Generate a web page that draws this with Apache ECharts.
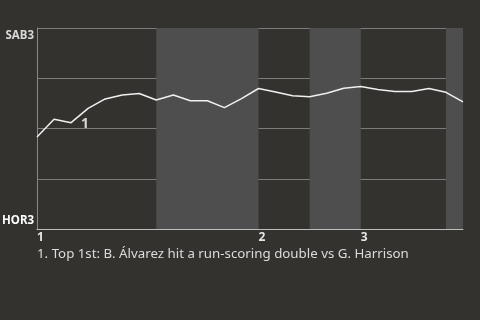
<!DOCTYPE html>
<html>
<head>
<meta charset="utf-8">
<script src="https://cdn.jsdelivr.net/npm/echarts@6/dist/echarts.min.js"></script>
<style>
html,body{margin:0;padding:0;background:#34322f;}
#chart{width:480px;height:320px;}
</style>
</head>
<body>
<div id="chart"></div>
<script>
// Win probability (SAB3 = 1, HOR3 = 0) after each plate appearance
var eventIndex = [0,1,2,3,4,5,6,7,8,9,10,11,12,13,14,15,16,17,18,19,20,21,22,23,24,25];
var winProb = [0.458,0.546,0.529,0.600,0.647,0.667,0.674,0.642,0.667,0.638,0.638,0.604,0.649,0.699,0.682,0.663,0.658,0.675,0.700,0.709,0.694,0.684,0.684,0.699,0.680,0.632];
// inning start positions and labels
var inningStarts = [0, 13, 19];
var inningLabels = ['1', '2', '3'];
// bottom-half inning ranges (shaded)
var bottomHalves = [[7, 13], [16, 19], [24, 25]];
var yTopLabel = 'SAB3';
var yBottomLabel = 'HOR3';
// annotations
var annotationIndex = [2];
var annotationText = ['1'];
var footnotes = ['1. Top 1st: B. Álvarez hit a run-scoring double vs G. Harrison'];

var FONT = 'Noto Sans';
var chart = echarts.init(document.getElementById('chart'));
var lineData = eventIndex.map(function (x, i) { return [x, winProb[i]]; });
var annData = annotationIndex.map(function (idx, i) { return { value: [eventIndex[idx], winProb[idx]], label: { formatter: annotationText[i] } }; });

chart.setOption({
  backgroundColor: '#34322f',
  animation: false,
  title: {
    text: footnotes.join('\n'),
    left: 37,
    top: 248,
    padding: 0,
    textStyle: { color: '#dcdcdc', fontSize: 13.3, fontWeight: 'normal', fontFamily: FONT }
  },
  grid: { left: 37, right: 17, top: 28, bottom: 91, containLabel: false, outerBoundsMode: 'none' },
  xAxis: {
    type: 'value', min: 0, max: 25, interval: 1,
    axisLine: { show: true, lineStyle: { color: '#bdbdbd', width: 1 } },
    axisTick: { show: false },
    splitLine: { show: false },
    axisLabel: {
      color: '#e6e6e6', fontWeight: 'bold', fontSize: 12, fontFamily: FONT, align: 'left', margin: 3,
      formatter: function (v) { var k = inningStarts.indexOf(v); return k >= 0 ? inningLabels[k] : ''; }
    }
  },
  yAxis: {
    type: 'value', min: 0, max: 1, interval: 0.25,
    axisLine: { show: true, lineStyle: { color: '#8a8a8a', width: 1 } },
    axisTick: { show: false },
    splitLine: { show: true, lineStyle: { color: '#7c7c7c', width: 1 } },
    axisLabel: {
      margin: 3, fontFamily: FONT,
      formatter: function (v) {
        if (v === 1) return '{t|' + yTopLabel + '}';
        if (v === 0) return '{b|' + yBottomLabel + '}';
        return '';
      },
      rich: {
        t: { color: '#d8d8d8', fontWeight: 'bold', fontSize: 11.5, fontFamily: FONT, padding: [16, 0, 0, 0] },
        b: { color: '#ffffff', fontWeight: 'bold', fontSize: 11.5, fontFamily: FONT, padding: [0, 0, 16, 0] }
      }
    }
  },
  series: [
    {
      type: 'line',
      data: lineData,
      symbol: 'none',
      lineStyle: { color: '#f0f0f0', width: 1.5 },
      z: 3,
      markArea: {
        silent: true,
        itemStyle: { color: '#4e4e4e' },
        data: bottomHalves.map(function (r) { return [{ xAxis: r[0] }, { xAxis: r[1] }]; })
      }
    },
    {
      type: 'scatter',
      data: annData,
      symbolSize: 0,
      z: 4,
      label: {
        show: true, position: 'right', offset: [5, 1],
        color: '#ffffff', fontWeight: 'bold', fontSize: 14, fontFamily: FONT
      }
    }
  ]
});
</script>
</body>
</html>
